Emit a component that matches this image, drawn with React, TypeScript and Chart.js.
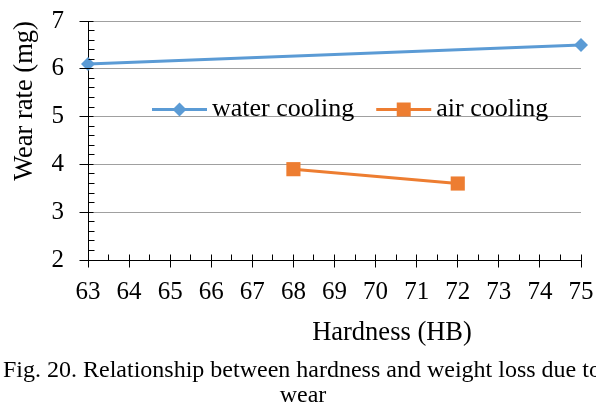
import React, { useEffect, useRef } from "react";
import { Chart, registerables } from "chart.js";

Chart.register(...registerables);

const seriesNames = ["water cooling", "air cooling"];
const seriesColors = ["#5B9BD5", "#ED7D31"];
const waterHardness = [63, 75];
const waterWear = [6.1, 6.5];
const airHardness = [68, 72];
const airWear = [3.9, 3.6];
const xTickValues = [63, 64, 65, 66, 67, 68, 69, 70, 71, 72, 73, 74, 75];
const yTickValues = [2, 3, 4, 5, 6, 7];
const xTitle = "Hardness (HB)";
const yTitle = "Wear rate (mg)";
const captionLines = [
  "Fig. 20. Relationship between hardness and weight loss due to",
  "wear",
];

const FONT = "'Liberation Serif', 'Times New Roman', serif";

function alignPx(p: number) {
  return Math.round(p - 0.5) + 0.5;
}

function zeroPadding(s: any) {
  s.paddingTop = 0;
  s.paddingBottom = 0;
  s.paddingLeft = 0;
  s.paddingRight = 0;
}

const decorPlugin = {
  id: "decor",
  afterDraw(chart: any) {
    const ctx: CanvasRenderingContext2D = chart.ctx;
    const xs = chart.scales.x;
    const ys = chart.scales.y;
    const area = chart.chartArea;
    const axX = alignPx(area.left);
    const axY = alignPx(area.bottom);

    ctx.save();
    ctx.strokeStyle = "#000";
    ctx.lineWidth = 1;
    ctx.beginPath();
    // y-axis major + minor ticks
    for (let i = 0; i < yTickValues.length; i++) {
      const v = yTickValues[i];
      const py = alignPx(ys.getPixelForValue(v));
      ctx.moveTo(axX - 9, py);
      ctx.lineTo(axX + 5, py);
      if (i < yTickValues.length - 1) {
        const step = (yTickValues[i + 1] - v) / 5;
        for (let k = 1; k < 5; k++) {
          const my = alignPx(ys.getPixelForValue(v + k * step));
          ctx.moveTo(axX, my);
          ctx.lineTo(axX + 6, my);
        }
      }
    }
    // x-axis major + minor ticks
    for (let i = 0; i < xTickValues.length; i++) {
      const v = xTickValues[i];
      const px = alignPx(xs.getPixelForValue(v));
      ctx.moveTo(px, axY - 6);
      ctx.lineTo(px, axY + 7);
      if (i < xTickValues.length - 1) {
        const mid = (v + xTickValues[i + 1]) / 2;
        const mx = alignPx(xs.getPixelForValue(mid));
        ctx.moveTo(mx, axY - 6);
        ctx.lineTo(mx, axY);
      }
    }
    ctx.stroke();

    // legend
    ctx.font = `26px ${FONT}`;
    ctx.textBaseline = "alphabetic";
    ctx.textAlign = "left";
    const legY = 109.5;
    let lx = 152;
    const styles = ["diamond", "square"];
    seriesNames.forEach((name, i) => {
      const x0 = lx;
      const x1 = lx + 55;
      ctx.strokeStyle = seriesColors[i];
      ctx.fillStyle = seriesColors[i];
      ctx.lineWidth = 3;
      ctx.beginPath();
      ctx.moveTo(x0, legY);
      ctx.lineTo(x1, legY);
      ctx.stroke();
      const cx = (x0 + x1) / 2;
      ctx.beginPath();
      if (styles[i] === "diamond") {
        ctx.moveTo(cx - 7, legY);
        ctx.lineTo(cx, legY - 7);
        ctx.lineTo(cx + 7, legY);
        ctx.lineTo(cx, legY + 7);
        ctx.closePath();
      } else {
        ctx.rect(cx - 7, legY - 7, 14, 14);
      }
      ctx.fill();
      ctx.fillStyle = "#000";
      ctx.fillText(name, x1 + 5, 116);
      lx = x1 + 5 + ctx.measureText(name).width + 22;
    });

    // axis titles
    ctx.fillStyle = "#000";
    ctx.font = `26.5px ${FONT}`;
    ctx.textAlign = "center";
    ctx.fillText(xTitle, 392, 340);

    ctx.save();
    ctx.translate(32, 101);
    ctx.rotate(-Math.PI / 2);
    ctx.fillText(yTitle, 0, 0);
    ctx.restore();

    // caption
    ctx.font = `24px ${FONT}`;
    ctx.textAlign = "left";
    ctx.fillText(captionLines[0], 3, 377);
    ctx.textAlign = "center";
    ctx.fillText(captionLines[1], 303, 402);
    ctx.restore();
  },
};

export default function App() {
  const canvasRef = useRef<HTMLCanvasElement | null>(null);

  useEffect(() => {
    const canvas = canvasRef.current;
    if (!canvas) return;
    const chart = new Chart(canvas, {
      type: "line",
      data: {
        datasets: [
          {
            label: seriesNames[0],
            data: waterHardness.map((x, i) => ({ x, y: waterWear[i] })),
            borderColor: seriesColors[0],
            backgroundColor: seriesColors[0],
            borderWidth: 3,
            pointStyle: "rectRot",
            pointRadius: 7,
            pointBorderWidth: 0,
            pointBackgroundColor: seriesColors[0],
            clip: false,
          } as any,
          {
            label: seriesNames[1],
            data: airHardness.map((x, i) => ({ x, y: airWear[i] })),
            borderColor: seriesColors[1],
            backgroundColor: seriesColors[1],
            borderWidth: 3,
            pointStyle: "rect",
            pointRadius: 10,
            pointBorderWidth: 0,
            pointBackgroundColor: seriesColors[1],
            clip: false,
          } as any,
        ],
      },
      options: {
        responsive: false,
        animation: false,
        devicePixelRatio: 1,
        layout: { autoPadding: false, padding: { left: 0, top: 21, right: 15, bottom: 0 } },
        plugins: {
          legend: { display: false },
          tooltip: { enabled: false },
          title: { display: false },
        },
        scales: {
          x: {
            type: "linear",
            min: xTickValues[0],
            max: xTickValues[xTickValues.length - 1],
            afterBuildTicks: (s: any) => {
              s.ticks = xTickValues.map((v) => ({ value: v }));
            },
            afterFit: (s: any) => {
              s.height = 145;
              zeroPadding(s);
            },
            grid: { display: false, drawTicks: false },
            border: { display: true, color: "#000", width: 1 },
            ticks: {
              font: { family: FONT, size: 25 },
              color: "#000",
              padding: 17,
              maxRotation: 0,
              autoSkip: false,
            },
          },
          y: {
            type: "linear",
            min: yTickValues[0],
            max: yTickValues[yTickValues.length - 1],
            afterBuildTicks: (s: any) => {
              s.ticks = yTickValues.map((v) => ({ value: v }));
            },
            afterFit: (s: any) => {
              s.width = 88;
              zeroPadding(s);
            },
            grid: {
              drawTicks: false,
              color: (c: any) =>
                c.tick && c.tick.value === yTickValues[0] ? "rgba(0,0,0,0)" : "#a0a0a0",
              lineWidth: 1,
            },
            border: { display: true, color: "#000", width: 1 },
            ticks: {
              font: { family: FONT, size: 25 },
              color: "#000",
              padding: 24,
            },
          },
        },
      } as any,
      plugins: [decorPlugin],
    });
    return () => chart.destroy();
  }, []);

  return (
    <div style={{ position: "fixed", left: 0, top: 0, width: 596, height: 405, background: "#fff" }}>
      <canvas ref={canvasRef} width={596} height={405} style={{ width: 596, height: 405, display: "block" }} />
    </div>
  );
}
